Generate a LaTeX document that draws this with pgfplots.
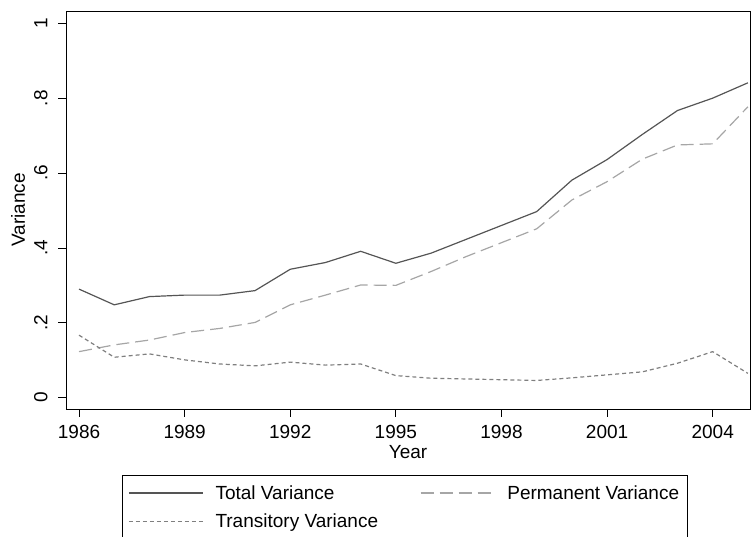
\documentclass[border=0pt]{standalone}
\usepackage{pgfplots}
\pgfplotsset{compat=1.18}
\usepackage{fontspec}
\setmainfont{Liberation Sans}
\definecolor{totc}{HTML}{555555}
\definecolor{perc}{HTML}{A6A6A6}
\definecolor{trac}{HTML}{7F7F7F}
\begin{document}
\begin{tikzpicture}[font=\fontsize{19}{23}\selectfont]
\begin{axis}[
  name=main,
  scale only axis,
  width=684pt, height=398pt,
  xmin=1985.63, xmax=2005.06,
  ymin=-0.0302, ymax=1.0328,
  xtick={1986,1989,1992,1995,1998,2001,2004},
  ytick={0,0.2,0.4,0.6,0.8,1},
  yticklabels={0,.2,.4,.6,.8,1},
  xticklabel style={/pgf/number format/1000 sep={}, yshift=-5pt},
  /pgf/number format/assume math mode=true,
  yticklabel style={rotate=90, anchor=south, xshift=0pt, yshift=7pt},
  tick align=outside,
  xtick pos=left, ytick pos=left,
  major tick length=8pt,
  tick style={black, line width=0.8pt},
  axis line style={black, line width=0.8pt},
  xlabel={Year},
  ylabel={Variance},
  xlabel style={at={(0.5,-0.108)}, anchor=center},
  ylabel style={at={(-0.0702,0.5)}, anchor=center, rotate=0},
  legend columns=2,
  legend cell align=left,
  legend style={
    at={(0.0819,-0.1658)}, anchor=north west,
    draw=black, line width=0.6pt,
    inner xsep=6pt, inner ysep=8pt,
    row sep=9pt,
    /tikz/every odd column/.append style={column sep=10pt},
    /tikz/every even column/.append style={column sep=40pt},
    font=\fontsize{19}{23}\selectfont,
  },
  legend image code/.code={\draw[#1] (0pt,0pt) -- (74pt,0pt);},
]
\addplot[totc, line width=1.2pt, line join=round] coordinates {
(1986,0.290) (1987,0.248) (1988,0.270) (1989,0.274) (1990,0.274)
(1991,0.286) (1992,0.343) (1993,0.361) (1994,0.391) (1995,0.359)
(1996,0.386) (1997,0.423) (1998,0.460) (1999,0.497) (2000,0.581)
(2001,0.636) (2002,0.703) (2003,0.767) (2004,0.800) (2005,0.841)
};
\addlegendentry{Total Variance}
\addplot[perc, line width=1.2pt, line join=round, dash pattern=on 13pt off 6pt] coordinates {
(1986,0.123) (1987,0.141) (1988,0.154) (1989,0.174) (1990,0.185)
(1991,0.201) (1992,0.248) (1993,0.274) (1994,0.301) (1995,0.300)
(1996,0.337) (1997,0.377) (1998,0.414) (1999,0.451) (2000,0.528)
(2001,0.577) (2002,0.637) (2003,0.675) (2004,0.678) (2005,0.777)
};
\addlegendentry{Permanent Variance\hspace{20pt}}
\addplot[trac, line width=1.2pt, line join=round, dash pattern=on 4pt off 3pt] coordinates {
(1986,0.167) (1987,0.108) (1988,0.117) (1989,0.101) (1990,0.090)
(1991,0.085) (1992,0.095) (1993,0.087) (1994,0.090) (1995,0.059)
(1996,0.052) (1997,0.050) (1998,0.048) (1999,0.046) (2000,0.053)
(2001,0.061) (2002,0.069) (2003,0.092) (2004,0.123) (2005,0.065)
};
\addlegendentry{Transitory Variance}
\end{axis}
\pgfresetboundingbox
\useasboundingbox ([xshift=-66pt,yshift=-128pt]main.south west) rectangle ([xshift=1pt,yshift=11pt]main.north east);
\end{tikzpicture}
\end{document}
